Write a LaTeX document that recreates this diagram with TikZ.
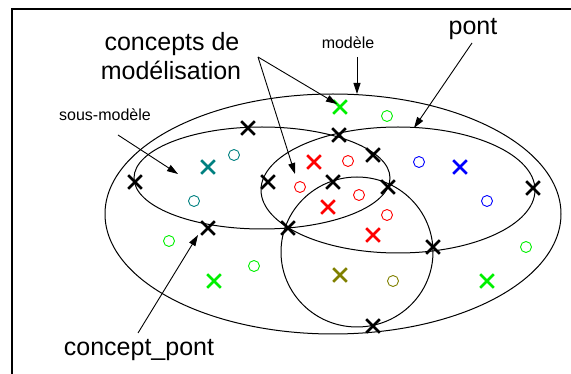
\documentclass[tikz,border=0pt]{standalone}
\usepackage{fontspec}
\setmainfont{Liberation Sans}
\usetikzlibrary{arrows.meta,shapes.misc}
\definecolor{cgreen}{RGB}{0,240,0}
\definecolor{cteal}{RGB}{0,128,128}
\definecolor{cred}{RGB}{255,0,0}
\definecolor{cblue}{RGB}{0,0,255}
\definecolor{colive}{RGB}{128,128,0}
\tikzset{
  xm/.style={cross out, draw, minimum size=11pt, inner sep=0pt, line width=2.6pt},
  ob/.style={circle, draw, minimum size=11pt, inner sep=0pt, line width=0.9pt},
  curve/.style={line width=1pt},
  arr/.style={line width=0.9pt, -{Triangle[length=11pt,width=7pt]}},
  bigtxt/.style={font=\fontsize{25}{29}\selectfont, anchor=base, inner sep=0pt},
  smalltxt/.style={font=\fontsize{16}{19}\selectfont, anchor=base, inner sep=0pt}
}
\begin{document}
\begin{tikzpicture}[x=1pt,y=-1pt]
\useasboundingbox (0,0) rectangle (571,374);
% frame
\draw[line width=2pt] (572,9.5) -- (11.5,9.5) -- (11.5,376);
% closed curves
\draw[curve] (333,214) ellipse [x radius=228pt, y radius=120pt];
\draw[curve] (262,178) ellipse [x radius=128pt, y radius=51pt];
\draw[curve] (398,190) ellipse [x radius=137pt, y radius=63pt];
\draw[curve] (357,252) ellipse [x radius=76pt, y radius=75pt];
% black crosses
\node[xm] (b1) at (248,128) {};
\node[xm] (b2) at (339,135) {};
\node[xm] (b3) at (135,182) {};
\node[xm] (b4) at (268,182) {};
\node[xm] (b5) at (373,155) {};
\node[xm] (b6) at (333,182) {};
\node[xm] (b7) at (388,187) {};
\node[xm] (b8) at (208,228) {};
\node[xm] (b9) at (288,228) {};
\node[xm] (b10) at (433,247) {};
\node[xm] (b11) at (533,188) {};
\node[xm] (b12) at (373,326) {};
% coloured crosses
\node[xm, cgreen] (g1) at (340,107) {};
\node[xm, cteal] (t1) at (208,167) {};
\node[xm, cred] (r1) at (314,162) {};
\node[xm, cred] (r2) at (328,207) {};
\node[xm, cred] (r3) at (373,235) {};
\node[xm, cblue] (u1) at (460,167) {};
\node[xm, colive] (o1) at (340,275) {};
\node[xm, cgreen] (g2) at (214,281) {};
\node[xm, cgreen] (g3) at (487,281) {};
% circles
\node[ob, cgreen] (cg1) at (387,116) {};
\node[ob, cteal] (ct1) at (234,155) {};
\node[ob, cteal] (ct2) at (194,201) {};
\node[ob, cred] (cr1) at (348,161) {};
\node[ob, cred] (cr2) at (300,187) {};
\node[ob, cred] (cr3) at (359,195) {};
\node[ob, cred] (cr4) at (387,215) {};
\node[ob, cblue] (cu1) at (419,162) {};
\node[ob, cblue] (cu2) at (487,201) {};
\node[ob, cgreen] (cg2) at (169,241) {};
\node[ob, cgreen] (cg3) at (254,266) {};
\node[ob, cgreen] (cg4) at (526,247) {};
\node[ob, colive] (co1) at (393,281) {};
% labels
\node[bigtxt] (tconc1) at (172,50.5) {concepts de};
\node[bigtxt] (tconc2) at (171,80) {modélisation};
\node[bigtxt] (tpont) at (473,35) {pont};
\node[bigtxt] (tcp) at (139,356) {concept\_pont};
\node[smalltxt] (tmod) at (348,49) {modèle};
\node[smalltxt] (tsous) at (105,121) {sous-modèle};
% arrow ends
\coordinate (capex) at (258,57);
\coordinate (ctipA) at (337,104);
\coordinate (ctipB) at (295,174);
\coordinate (mstart) at (357,57);
\coordinate (mtip) at (357,94);
\coordinate (pstart) at (472,43);
\coordinate (ptip) at (414,128);
\coordinate (sstart) at (118,135);
\coordinate (stip) at (178,174);
\coordinate (cpstart) at (138,333);
\coordinate (cptip) at (198,235);
% arrows
\draw[arr] (capex) -- (ctipA);
\draw[arr] (capex) -- (ctipB);
\draw[arr] (mstart) -- (mtip);
\draw[arr] (pstart) -- (ptip);
\draw[arr] (sstart) -- (stip);
\draw[arr] (cpstart) -- (cptip);
\end{tikzpicture}
\end{document}
